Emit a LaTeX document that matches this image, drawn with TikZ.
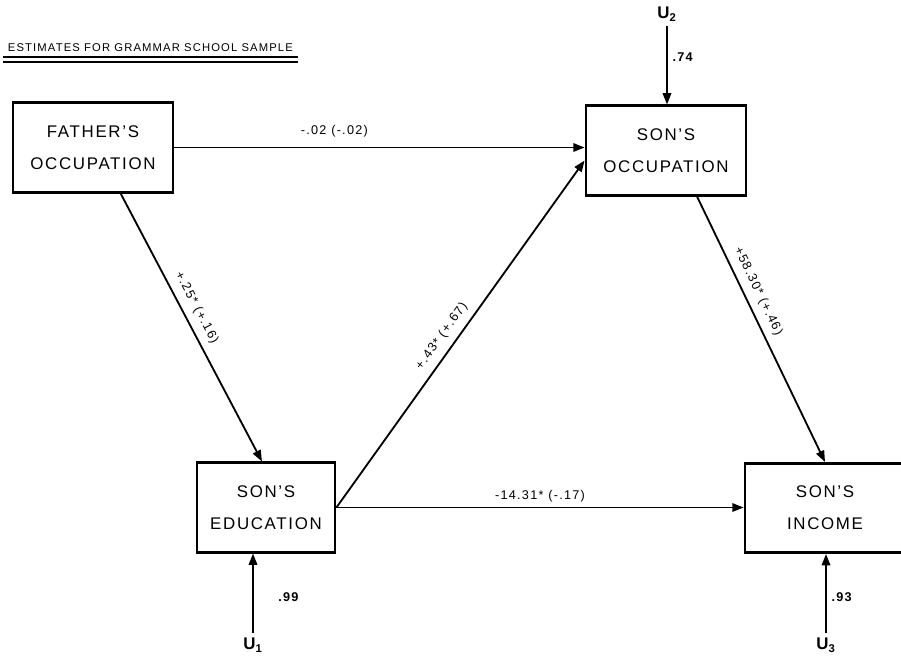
\documentclass[tikz,border=0pt]{standalone}
\usepackage{fontspec}
\setmainfont{Liberation Sans}[LetterSpace=10]
\usetikzlibrary{arrows.meta}
\begin{document}
\begin{tikzpicture}[
  x=0.025cm, y=-0.025cm,
  var/.style={draw, line width=2pt, minimum height=2.23cm, align=center, font=\large, inner sep=0},
  link/.style={-{Triangle[length=8pt, width=6pt]}, line width=1.3pt},
  coef/.style={font=\small, sloped, above, inner sep=5pt},
  resid/.style={font=\large\bfseries},
  load/.style={right, font=\small\bfseries}
]
\clip (0,0) rectangle (901,659);

% title, twice underlined
\node[font=\footnotesize, anchor=west] (title) at (3,48) {ESTIMATES FOR GRAMMAR SCHOOL SAMPLE};
\draw[line width=0.8pt] (title.south west) -- (title.south east);
\draw[line width=1.3pt] ([yshift=-3.5pt]title.south west) -- ([yshift=-3.5pt]title.south east);

% variables
\node[var, minimum width=4cm]    (fo) at (93,147.5)  {FATHER'S\\[9pt]OCCUPATION};
\node[var, minimum width=4cm]    (so) at (666,150.5) {SON'S\\[9pt]OCCUPATION};
\node[var, minimum width=3.45cm] (se) at (266,507.5) {SON'S\\[9pt]EDUCATION};
\node[var, minimum width=4cm]    (si) at (825,508)   {SON'S\\[9pt]INCOME};

% residuals
\node[resid] (u2) at (667,14)  {U\textsubscript{2}};
\node[resid] (u1) at (253,645) {U\textsubscript{1}};
\node[resid] (u3) at (826,645) {U\textsubscript{3}};

% paths
\draw[link] (fo.east) -- (fo.east -| so.west)
  node[coef, pos=0.39, inner sep=7pt] {-.02 (-.02)};
\draw[link] (fo.-59) -- (se.95)
  node[coef, pos=0.45] {+.25* (+.16)};
\draw[link] (se.east) -- (so.187)
  node[coef, pos=0.47] {+.43* (+.67)};
\draw[link] (so.-56) -- (si.north)
  node[coef, pos=0.38] {+58.30* (+.46)};
\draw[link] (se.east) -- (se.east -| si.west)
  node[coef, pos=0.5, inner sep=3pt] {-14.31* (-.17)};

\draw[link] (u2) -- (u2 |- so.north)
  node[load, pos=0.4] {.74};
\draw[link] (u1) -- (u1 |- se.south)
  node[load, pos=0.45, xshift=14pt] {.99};
\draw[link] (u3) -- (u3 |- si.south)
  node[load, pos=0.45] {.93};
\end{tikzpicture}
\end{document}
